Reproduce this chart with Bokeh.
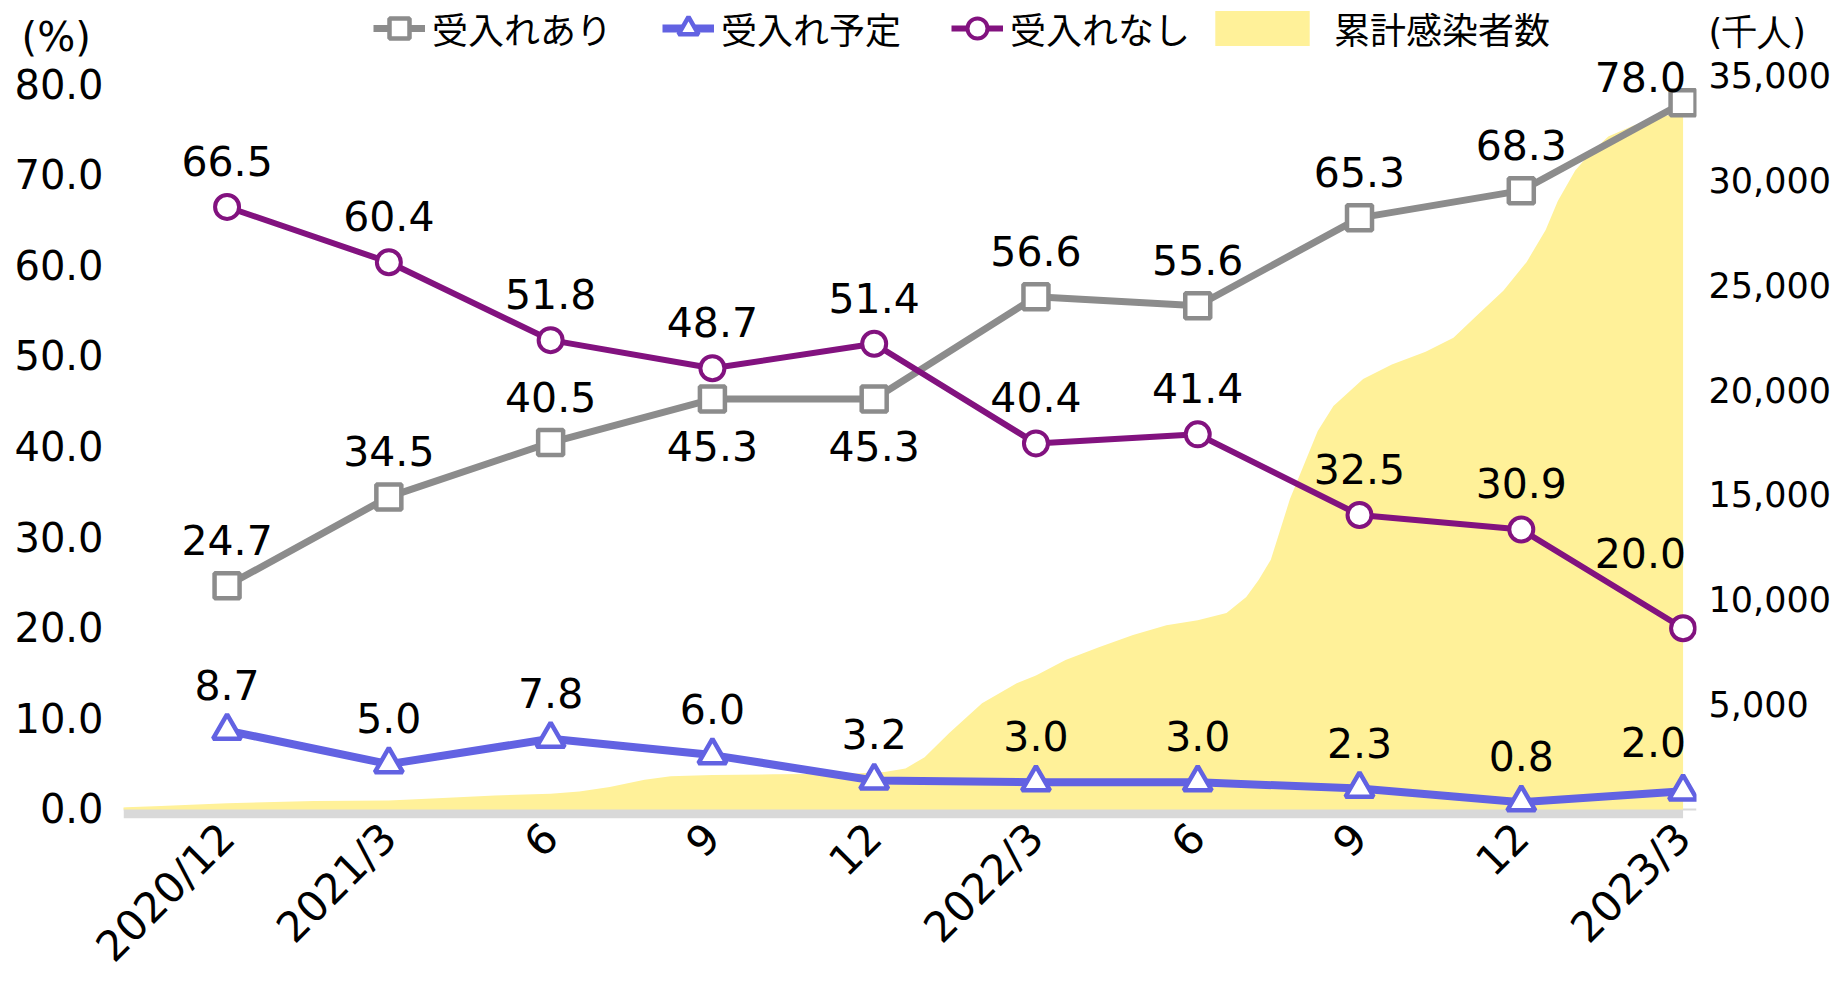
import math
import pandas as pd
from bokeh.plotting import figure
from bokeh.models import (Range1d, LinearAxis, FixedTicker, PrintfTickFormatter,
                          NumeralTickFormatter, Legend, LegendItem, BoxAnnotation,
                          Span)
from bokeh.core.properties import value
from bokeh.embed import file_html
from bokeh.resources import INLINE

# ---------------- data ----------------
categories = ["2020/12", "2021/3", "6", "9", "12", "2022/3", "6", "9", "12", "2023/3"]
accept_yes = [24.7, 34.5, 40.5, 45.3, 45.3, 56.6, 55.6, 65.3, 68.3, 78.0]    # 受入れあり
accept_plan = [8.7, 5.0, 7.8, 6.0, 3.2, 3.0, 3.0, 2.3, 0.8, 2.0]            # 受入れ予定
accept_no = [66.5, 60.4, 51.8, 48.7, 51.4, 40.4, 41.4, 32.5, 30.9, 20.0]     # 受入れなし

# 累計感染者数 (千人)
area_dates = ["2020-10-03", "2020-10-05", "2020-10-25", "2020-12-01", "2021-01-20",
              "2021-03-01", "2021-04-01", "2021-04-30", "2021-06-01", "2021-06-17",
              "2021-07-04", "2021-07-24", "2021-08-08", "2021-09-01", "2021-10-05",
              "2021-11-17", "2021-12-07", "2021-12-19", "2021-12-30", "2022-01-13",
              "2022-02-01", "2022-02-19", "2022-03-01", "2022-03-18", "2022-04-06",
              "2022-04-25", "2022-05-14", "2022-06-01", "2022-06-17", "2022-06-28",
              "2022-07-05", "2022-07-12", "2022-07-23", "2022-08-08", "2022-08-17",
              "2022-09-03", "2022-09-19", "2022-10-08", "2022-10-24", "2022-11-06",
              "2022-11-21", "2022-12-04", "2022-12-15", "2022-12-22", "2023-01-01",
              "2023-01-09", "2023-01-20", "2023-02-03", "2023-02-16", "2023-03-01"]
area_cases = [90, 100, 158, 300, 397,
              431, 541, 670, 750, 862,
              1066, 1420, 1580, 1640, 1675,
              1707, 1785, 1960, 2490, 3640,
              5070, 6030, 6400, 7130, 7750,
              8330, 8800, 9040, 9380, 10150,
              10960, 11920, 14820, 18070, 19270,
              20560, 21250, 21860, 22530, 23560,
              24770, 26130, 27670, 29050, 30510,
              31280, 32130, 32650, 33070, 33240]

left_ticks = [0, 10, 20, 30, 40, 50, 60, 70, 80]
right_ticks = [5000, 10000, 15000, 20000, 25000, 30000, 35000]
left_unit = "(%)\u00a0"
right_unit = "(千人)"

# ---------------- derived positions ----------------
xs = list(range(len(categories)))
ts = pd.to_datetime(area_dates)
months = (ts.year - 2020) * 12 + (ts.month - 12) + (ts.day - 1) / ts.days_in_month
area_x = list(months / 3.0)

GRAY = "#8c8c8c"
BLUE = "#6262e2"
PURPLE = "#82127f"
YELLOW = "#fff199"
NUMFONT = value("DejaVu Sans")

# unit captions sit on the axes, at the height of the legend row
LEFT_UNIT_POS = 85.3
RIGHT_UNIT_POS = 37140

p = figure(frame_width=1573, frame_height=818,
           x_range=Range1d(-0.6402, 9.083), y_range=Range1d(-1, 89.29),
           output_backend="svg", toolbar_location=None,
           min_border_left=123, min_border_right=145,
           min_border_top=0, min_border_bottom=165,
           background_fill_color="white", border_fill_color="white",
           outline_line_color=None)
p.extra_y_ranges = {"cases": Range1d(-433, 38629)}
p.grid.visible = False

# left axis
ya = p.yaxis[0]
ya.ticker = FixedTicker(ticks=left_ticks + [LEFT_UNIT_POS])
ya.formatter = PrintfTickFormatter(format="%.1f")
ya.major_label_overrides = {LEFT_UNIT_POS: left_unit}
ya.axis_line_color = None
ya.major_tick_line_color = None
ya.minor_tick_line_color = None
ya.major_tick_out = 0
ya.major_label_standoff = 20
ya.major_label_text_font = "DejaVu Sans"
ya.major_label_text_font_size = "40px"
ya.major_label_text_color = "black"

# right axis
ra = LinearAxis(y_range_name="cases", ticker=FixedTicker(ticks=right_ticks + [RIGHT_UNIT_POS]),
                formatter=NumeralTickFormatter(format="0,0"))
ra.major_label_overrides = {RIGHT_UNIT_POS: right_unit}
ra.axis_line_color = None
ra.major_tick_line_color = None
ra.minor_tick_line_color = None
ra.major_tick_out = 0
ra.major_label_standoff = 12
ra.major_label_text_font = "DejaVu Sans"
ra.major_label_text_font_size = "35px"
ra.major_label_text_color = "black"
p.add_layout(ra, "right")

# x axis
xa = p.xaxis[0]
xa.ticker = FixedTicker(ticks=xs)
xa.major_label_overrides = {i: c for i, c in enumerate(categories)}
xa.major_label_orientation = math.pi / 4
xa.axis_line_color = None
xa.major_tick_line_color = None
xa.minor_tick_line_color = None
xa.major_tick_out = 0
xa.major_label_standoff = 12
xa.major_label_text_font = "DejaVu Sans"
xa.major_label_text_font_size = "42px"
xa.major_label_text_color = "black"

# area
area = p.varea(x=area_x, y1=0, y2=area_cases, y_range_name="cases",
               fill_color=YELLOW, fill_alpha=1.0)

# baseline band
p.add_layout(Span(location=0, dimension="width", line_color="#d9d9d9",
                  line_width=2, level="underlay"))
p.add_layout(BoxAnnotation(right=xs[-1], bottom=-1, top=0, fill_color="#d9d9d9",
                           fill_alpha=1.0, line_color=None, level="underlay"))

# lines + markers
l1 = p.line(xs, accept_yes, line_color=GRAY, line_width=7)
m1 = p.scatter(xs, accept_yes, marker="square", size=25, fill_color="white",
               line_color=GRAY, line_width=4.5)
l2 = p.line(xs, accept_plan, line_color=BLUE, line_width=8)
m2 = p.scatter(xs, accept_plan, marker="triangle", size=28, fill_color="white",
               line_color=BLUE, line_width=4.5)
l3 = p.line(xs, accept_no, line_color=PURPLE, line_width=6)
m3 = p.scatter(xs, accept_no, marker="circle", size=24, fill_color="white",
               line_color=PURPLE, line_width=4)

# data labels
def add_labels(vals, offs, last_off):
    txt = [f"{v:.1f}" for v in vals]
    p.text(x=xs[:-1], y=vals[:-1], text=txt[:-1], y_offset=offs,
           text_align="center", text_baseline="middle", text_font=NUMFONT,
           text_font_size="41px", text_color="black")
    p.text(x=[xs[-1]], y=[vals[-1]], text=[txt[-1]], y_offset=[last_off],
           x_offset=[3], text_align="right", text_baseline="middle",
           text_font=NUMFONT, text_font_size="41px", text_color="black")

add_labels(accept_yes, [-46, -46, -46, 47, 47, -46, -46, -46, -46], -26)
add_labels(accept_plan, [-46] * 9, -49)
add_labels(accept_no, [-46] * 9, -75)

# legends
leg1 = Legend(items=[LegendItem(label="受入れあり", renderers=[l1, m1]),
                     LegendItem(label="受入れ予定", renderers=[l2, m2]),
                     LegendItem(label="受入れなし", renderers=[l3, m3])],
              location=(250, 764), orientation="horizontal",
              glyph_width=52, glyph_height=50, label_standoff=7, spacing=50,
              padding=0, margin=0, border_line_color=None,
              background_fill_alpha=0, label_text_font="Noto Sans CJK JP",
              label_text_font_size="36px", label_text_color="black")
leg2 = Legend(items=[LegendItem(label="累計感染者数", renderers=[area])],
              location=(1080, 764), orientation="horizontal",
              glyph_width=118, glyph_height=44, label_standoff=13,
              padding=0, margin=0, border_line_color=None,
              background_fill_alpha=0, label_text_font="Noto Sans CJK JP",
              label_text_font_size="36px", label_text_color="black")
p.add_layout(leg1)
p.add_layout(leg2)

open("out.html", "w").write(file_html(p, INLINE))
